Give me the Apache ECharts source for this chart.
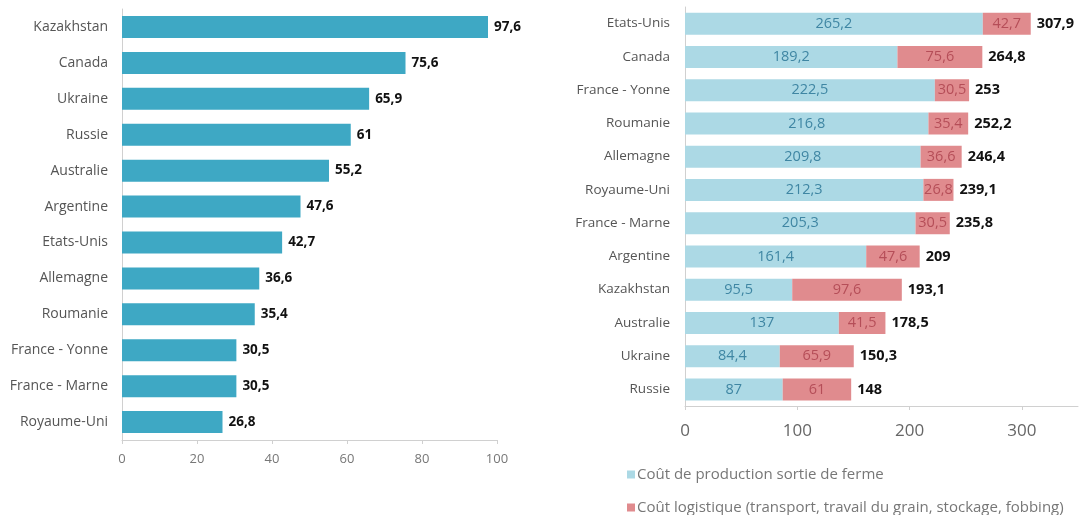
<!DOCTYPE html>
<html>
<head>
<meta charset="utf-8">
<script src="https://cdn.jsdelivr.net/npm/echarts@6/dist/echarts.min.js"></script>
<style>
html,body{margin:0;padding:0;background:#fff;}
#c{width:1087px;height:515px;}
</style>
</head>
<body>
<div id="c"></div>
<script>
// Left chart: logistic cost by country
const leftCategories = ['Kazakhstan','Canada','Ukraine','Russie','Australie','Argentine','Etats-Unis','Allemagne','Roumanie','France - Yonne','France - Marne','Royaume-Uni'];
const leftValues = [97.6, 75.6, 65.9, 61, 55.2, 47.6, 42.7, 36.6, 35.4, 30.5, 30.5, 26.8];
const leftTicks = [0, 20, 40, 60, 80, 100];

// Right chart: production + logistic cost
const rightCategories = ['Etats-Unis','Canada','France - Yonne','Roumanie','Allemagne','Royaume-Uni','France - Marne','Argentine','Kazakhstan','Australie','Ukraine','Russie'];
const productionCost = [265.2, 189.2, 222.5, 216.8, 209.8, 212.3, 205.3, 161.4, 95.5, 137, 84.4, 87];
const logisticCost = [42.7, 75.6, 30.5, 35.4, 36.6, 26.8, 30.5, 47.6, 97.6, 41.5, 65.9, 61];
const totalCost = [307.9, 264.8, 253, 252.2, 246.4, 239.1, 235.8, 209, 193.1, 178.5, 150.3, 148];
const rightTicks = [0, 100, 200, 300];
const legendNames = ['Coût de production sortie de ferme', 'Coût logistique (transport, travail du grain, stockage, fobbing)'];

const fmt = v => String(v).replace('.', ',');
const FONT = '"Open Sans", Lato, sans-serif';

const legendBase = {
  orient: 'vertical', left: 622,
  itemWidth: 8, itemHeight: 8,
  icon: 'rect',
  textStyle: { color: '#777', fontSize: 15, fontFamily: FONT, padding: [0, 0, 0, -3] }
};

const chart = echarts.init(document.getElementById('c'));
chart.setOption({
  animation: false,
  textStyle: { fontFamily: FONT },
  legend: [
    Object.assign({}, legendBase, { top: 462, data: [legendNames[0]] }),
    Object.assign({}, legendBase, { top: 495, data: [legendNames[1]] })
  ],
  grid: [
    { left: 122, width: 375, top: 9, height: 431 },
    { left: 685, width: 393, top: 7, height: 399 }
  ],
  xAxis: [
    {
      gridIndex: 0, type: 'value', min: 0, max: 100, interval: 20,
      axisLine: { show: true, lineStyle: { color: '#d0d0d0' } },
      axisTick: { show: true, length: 4, lineStyle: { color: '#d0d0d0' } },
      splitLine: { show: false },
      axisLabel: { color: '#777', fontSize: 13, margin: 13, formatter: v => leftTicks.includes(v) ? String(v) : '' }
    },
    {
      gridIndex: 1, type: 'value', min: 0, max: 350, interval: 100,
      axisLine: { show: true, lineStyle: { color: '#d0d0d0' } },
      axisTick: { show: true, length: 4, lineStyle: { color: '#d0d0d0' } },
      splitLine: { show: false },
      axisLabel: { color: '#666', fontSize: 17, margin: 17, showMaxLabel: false, formatter: v => rightTicks.includes(v) ? String(v) : '' }
    }
  ],
  yAxis: [
    {
      gridIndex: 0, type: 'category', inverse: true, data: leftCategories,
      axisLine: { show: true, lineStyle: { color: '#d0d0d0' } },
      axisTick: { show: false },
      axisLabel: { color: '#555', fontSize: 14, margin: 14 }
    },
    {
      gridIndex: 1, type: 'category', inverse: true, data: rightCategories,
      axisLine: { show: true, lineStyle: { color: '#d0d0d0' } },
      axisTick: { show: false },
      axisLabel: { color: '#555', fontSize: 13.5, margin: 15 }
    }
  ],
  series: [
    {
      type: 'bar', xAxisIndex: 0, yAxisIndex: 0, data: leftValues,
      barWidth: 22,
      itemStyle: { color: '#3ea8c4' },
      label: { show: true, position: 'right', distance: 6, color: '#111', fontWeight: 'bold', fontSize: 13.5, formatter: p => fmt(p.value) }
    },
    {
      name: legendNames[0], type: 'bar', xAxisIndex: 1, yAxisIndex: 1, stack: 'cost', data: productionCost,
      barWidth: 22,
      itemStyle: { color: '#acd9e5' },
      label: { show: true, position: 'inside', color: '#3f86a3', fontSize: 14.5, formatter: p => fmt(p.value) }
    },
    {
      name: legendNames[1], type: 'bar', xAxisIndex: 1, yAxisIndex: 1, stack: 'cost', data: logisticCost,
      barWidth: 22,
      itemStyle: { color: '#e08b8e' },
      label: { show: true, position: 'inside', color: '#b54e58', fontSize: 14.5, formatter: p => fmt(p.value) }
    },
    {
      name: 'Total', type: 'bar', xAxisIndex: 1, yAxisIndex: 1, data: totalCost,
      barWidth: 22, barGap: '-100%', z: 1,
      itemStyle: { color: 'rgba(0,0,0,0)' },
      label: { show: true, position: 'right', distance: 6, color: '#111', fontWeight: 'bold', fontSize: 14.5, formatter: p => fmt(p.value) }
    }
  ]
});
</script>
</body>
</html>
